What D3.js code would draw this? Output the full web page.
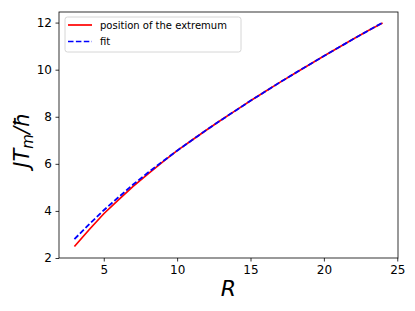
<!DOCTYPE html>
<html>
<head>
<meta charset="utf-8">
<script src="https://cdn.jsdelivr.net/npm/d3@7"></script>
<style>
  body { margin: 0; background: #fff; }
  svg { font-family: "DejaVu Sans", sans-serif; }
</style>
</head>
<body>
<svg id="vis" width="415" height="311"></svg>
<script>
const rValues = [3, 4, 5, 6, 7, 8, 9, 10, 11, 12, 13, 14, 15, 16, 17, 18, 19, 20, 21, 22, 23, 24];
const extremum = [2.49, 3.20, 3.88, 4.47, 5.04, 5.56, 6.07, 6.56, 7.00, 7.44, 7.86, 8.27, 8.68, 9.07, 9.46, 9.84, 10.21, 10.58, 10.94, 11.30, 11.65, 11.98];
const fit = [2.80, 3.43, 4.03, 4.58, 5.12, 5.62, 6.10, 6.56, 7.00, 7.44, 7.86, 8.27, 8.68, 9.07, 9.46, 9.84, 10.21, 10.58, 10.94, 11.30, 11.65, 12.00];
const xTicks = [5, 10, 15, 20, 25];
const yTicks = [2, 4, 6, 8, 10, 12];
const legendLabels = ["position of the extremum", "fit"];

const margin = {left: 59, right: 17, top: 12, bottom: 53};
const W = 415, H = 311;

const svg = d3.select("#vis");

const x = d3.scaleLinear().domain([1.95, 25.05]).range([margin.left, W - margin.right]);
const y = d3.scaleLinear().domain([2.0, 12.45]).range([H - margin.bottom, margin.top]);

const line = d3.line().x(d => x(d[0])).y(d => y(d[1]));

svg.append("path")
  .datum(d3.zip(rValues, extremum))
  .attr("d", line)
  .attr("fill", "none")
  .attr("stroke", "#ff0000")
  .attr("stroke-width", 1.7);

svg.append("path")
  .datum(d3.zip(rValues, fit))
  .attr("d", line)
  .attr("fill", "none")
  .attr("stroke", "#0000ff")
  .attr("stroke-width", 1.8)
  .attr("stroke-dasharray", "5.5,2.4");

// axes
const xAxis = svg.append("g")
  .attr("transform", `translate(0,${H - margin.bottom})`)
  .call(d3.axisBottom(x).tickValues(xTicks).tickSize(3.5).tickPadding(3.5));
const yAxis = svg.append("g")
  .attr("transform", `translate(${margin.left},0)`)
  .call(d3.axisLeft(y).tickValues(yTicks).tickSize(3.5).tickPadding(3.5));

[xAxis, yAxis].forEach(g => {
  g.select(".domain").remove();
  g.selectAll("line").attr("stroke", "#000").attr("stroke-width", 0.8);
  g.selectAll("text").attr("font-size", 12).attr("fill", "#000")
    .attr("font-family", "DejaVu Sans");
});

svg.append("rect")
  .attr("x", margin.left).attr("y", margin.top)
  .attr("width", W - margin.left - margin.right)
  .attr("height", H - margin.top - margin.bottom)
  .attr("fill", "none").attr("stroke", "#000").attr("stroke-width", 0.8);

// axis labels
svg.append("text")
  .attr("x", x(13.5)).attr("y", 296)
  .attr("text-anchor", "middle")
  .attr("font-size", 22).attr("font-style", "italic")
  .text("R");

const yl = svg.append("text")
  .attr("transform", `translate(29,140) rotate(-90)`)
  .attr("text-anchor", "middle")
  .attr("font-size", 21).attr("font-style", "italic");
yl.append("tspan").text("JT");
yl.append("tspan").attr("font-size", 15).attr("dy", 4).text("m");
yl.append("tspan").attr("dy", -4).text("/ħ");

// legend
const lg = svg.append("g");
lg.append("rect")
  .attr("x", 65).attr("y", 17).attr("width", 176).attr("height", 35).attr("rx", 2.5)
  .attr("fill", "#fff").attr("fill-opacity", 0.8)
  .attr("stroke", "#cccccc").attr("stroke-width", 0.8);
const styles = [{c: "#ff0000", d: null}, {c: "#0000ff", d: "5.5,2.4"}];
legendLabels.forEach((t, i) => {
  const yy = 25 + i * 16.5;
  lg.append("line").attr("x1", 68).attr("x2", 92).attr("y1", yy).attr("y2", yy)
    .attr("stroke", styles[i].c).attr("stroke-width", 1.7)
    .attr("stroke-dasharray", styles[i].d);
  lg.append("text").attr("x", 100).attr("y", yy + 3.6)
    .attr("font-size", 10).text(t);
});
</script>
</body>
</html>
